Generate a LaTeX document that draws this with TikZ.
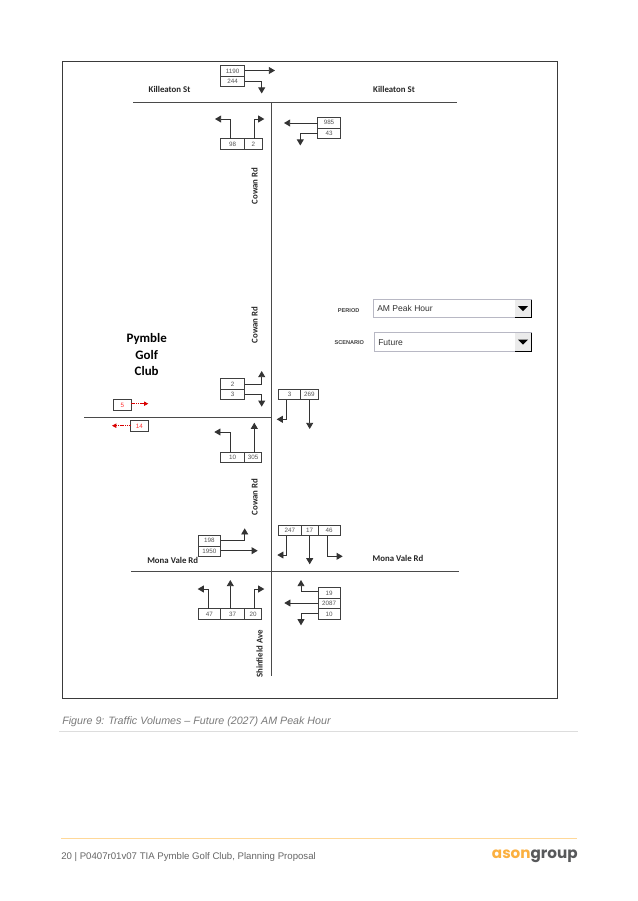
\documentclass[tikz,border=0pt]{standalone}
\usepackage{fontspec}
\setmainfont{Liberation Sans}
\newfontfamily\roadfont{Carlito}
\newfontfamily\logofont{Poppins}
\usetikzlibrary{arrows.meta,calc}
\definecolor{framec}{HTML}{3A3A3A}
\definecolor{roadc}{HTML}{4A4A4A}
\definecolor{cellc}{HTML}{404040}
\definecolor{numc}{HTML}{555555}
\definecolor{capc}{HTML}{7A7A7A}
\definecolor{rulec}{HTML}{DDDDDD}
\definecolor{footc}{HTML}{FFD898}
\definecolor{logoo}{HTML}{FBB040}
\definecolor{logog}{HTML}{58595B}
\definecolor{ddc}{HTML}{B8B8C4}
\tikzset{
  cellbox/.style={draw=cellc,line width=0.6pt,fill=white,inner sep=0pt,outer sep=0pt,text=numc,font=\fontsize{4.7}{5}\selectfont},
  flow/.style={draw=black!80,line width=0.65pt,-{Triangle[length=4.6pt,width=5.2pt]},rounded corners=0pt},
  redflow/.style={draw=red!85!black,line width=0.6pt,dash pattern=on 1.2pt off 0.5pt,-{Triangle[length=3.2pt,width=3.2pt]}},
  redbox/.style={cellbox,text=red!80},
  road/.style={draw=roadc,line width=0.7pt},
  roadname/.style={font=\roadfont\bfseries\fontsize{6.6}{7}\selectfont,text=black!85,inner sep=0pt},
  golf/.style={font=\roadfont\bfseries\fontsize{9.7}{11}\selectfont,text=black,inner sep=0pt},
  smalllabel/.style={font=\bfseries\fontsize{4.2}{5}\selectfont,text=black!75,inner sep=0pt},
  ddbox/.style={draw=ddc,line width=0.9pt,fill=white,inner sep=0pt,outer sep=0pt},
  ddtext/.style={font=\fontsize{6.4}{7}\selectfont,text=black!80,inner sep=0pt,anchor=west}
}
\newcommand{\cellat}[7][cellbox]{%
  \pgfmathsetmacro{\cw}{(#5-#3)*0.75}%
  \pgfmathsetmacro{\ch}{(#6-#4)*0.75}%
  \node[#1,minimum width=\cw pt,minimum height=\ch pt] (#2) at ({(#3+#5)/2},{(#4+#6)/2}) {#7};%
}
\begin{document}
\begin{tikzpicture}[x=0.75pt,y=-0.75pt]
\useasboundingbox (0,0) rectangle (637,901);
\fill[white] (0,0) rectangle (637,901);
\node[draw=framec,line width=0.6pt,inner sep=0pt,minimum width=371.25pt,minimum height=477.75pt] (frame) at (309.5,379.5) {};
% roads
\coordinate (kw) at (133,102.7); \coordinate (ke) at (457,102.7);
\coordinate (cn) at (271,102.7); \coordinate (cs) at (271,676);
\coordinate (gw) at (84.3,417.7); \coordinate (gj) at (271,417.7);
\coordinate (mw) at (131,571.7); \coordinate (me) at (459,571.7);
\draw[road] (kw) -- (ke);
\draw[road] (cn) -- (cs);
\draw[road] (gw) -- (gj);
\draw[road] (mw) -- (me);
% road names
\node[roadname] (k1) at (169.5,89.5) {Killeaton St};
\node[roadname] (k2) at (394,89.5) {Killeaton St};
\node[roadname,rotate=90] (c1) at (254.5,186) {Cowan Rd};
\node[roadname,rotate=90] (c2) at (254.5,325) {Cowan Rd};
\node[roadname,rotate=90] (c3) at (254.5,497) {Cowan Rd};
\node[roadname,rotate=90] (s1) at (259.5,654) {Shinfield Ave};
\node[roadname] (m1) at (172.7,560.7) {Mona Vale Rd};
\node[roadname] (m2) at (398,558.7) {Mona Vale Rd};
\node[golf] (g1) at (146.7,339) {Pymble};
\node[golf] (g2) at (146.7,355) {Golf};
\node[golf] (g3) at (146.7,370.7) {Club};
% Killeaton north-side
\cellat{a1}{220.7}{65.7}{244.7}{76.3}{1190}
\cellat{a2}{220.7}{76.3}{244.7}{86.7}{244}
\coordinate (ea1) at (275,70.5); \coordinate (ea2) at (261.7,93.5);
\draw[flow] (a1.east |- ea1) -- (ea1);
\draw[flow] (a2.east) ++(0,-0.5) -| (ea2);
% Cowan north approach
\cellat{b1}{220.7}{138.7}{244.7}{149.3}{98}
\cellat{b2}{244.7}{138.7}{262}{149.3}{2}
\coordinate (eb1) at (215,119); \coordinate (eb2) at (264.3,119);
\draw[flow] (b1.north -| 230,0) |- (eb1);
\draw[flow] (b2.north -| 254.3,0) |- (eb2);
% Killeaton east approach
\cellat{d1}{317.7}{117.3}{340.3}{128}{985}
\cellat{d2}{317.7}{128}{340.3}{138.3}{43}
\coordinate (ed1) at (284,123); \coordinate (ed2) at (300.3,145.5);
\draw[flow] (d1.west |- ed1) -- (ed1);
\draw[flow] (d2.west) -| (ed2);
% Golf club intersection
\cellat{f1}{220.7}{378.7}{244.7}{389.3}{2}
\cellat{f2}{220.7}{389.3}{244.7}{399.7}{3}
\coordinate (ef1) at (261.7,371); \coordinate (ef2) at (261.7,406.7);
\draw[flow] (f1.east) -| (ef1);
\draw[flow] (f2.east) -| (ef2);
\cellat{h1}{278.3}{389}{300.7}{399.7}{3}
\cellat{h2}{300.7}{389}{318}{399.7}{269}
\coordinate (eh1) at (276.7,419.3); \coordinate (eh2) at (309.7,429);
\draw[flow] (h1.south -| 286.7,0) |- (eh1);
\draw[flow] (h2.south -| eh2) -- (eh2);
\cellat{i1}{220.7}{452}{244.7}{462.3}{10}
\cellat{i2}{244.7}{452}{261.7}{462.3}{305}
\coordinate (ei1) at (214.3,432); \coordinate (ei2) at (254.3,422.7);
\draw[flow] (i1.north -| 230.3,0) |- (ei1);
\draw[flow] (i2.north -| ei2) -- (ei2);
% red site volumes
\cellat[redbox]{r1}{113.7}{399.7}{131}{410.3}{5}
\cellat[redbox]{r2}{130.7}{420.7}{148}{431}{14}
\coordinate (er1) at (148.3,403.7); \coordinate (er2) at (112,425.7);
\draw[redflow] (r1.east |- er1) -- (er1);
\draw[redflow] (r2.west |- er2) -- (er2);
% Period / scenario
\node[smalllabel] (pl) at (348.7,311) {PERIOD};
\node[smalllabel] (sl) at (349.3,342.3) {SCENARIO};
\node[ddbox,minimum width=118pt,minimum height=13.5pt] (dd1) at (452.4,308.3) {};
\node[ddbox,minimum width=117.5pt,minimum height=14.5pt] (dd2) at (452.7,342) {};
\node[ddtext] (t1) at (377,308.5) {AM Peak Hour};
\node[ddtext] (t2) at (378,342.5) {Future};
\fill[black!8] (515,300.3) rectangle (531,316.5);
\fill[black!8] (515,333.3) rectangle (531,351);
\draw[black,line width=0.7pt] (531,299.5) -- (531,317.3) -- (515,317.3);
\draw[black,line width=0.7pt] (531,332.5) -- (531,351.7) -- (515,351.7);
\fill[black] (518,306) -- (528,306) -- (523,311) -- cycle;
\fill[black] (518,339.5) -- (528,339.5) -- (523,344.5) -- cycle;
% Mona Vale north approach
\cellat{j1}{278.7}{525}{301}{535.7}{247}
\cellat{j2}{301}{525}{318}{535.7}{17}
\cellat{j3}{318}{525}{340.3}{535.7}{46}
\coordinate (ej1) at (277.3,555); \coordinate (ej2) at (309.7,564.3); \coordinate (ej3) at (342.7,556.3);
\draw[flow] (j1.south -| 286.7,0) |- (ej1);
\draw[flow] (j2.south -| ej2) -- (ej2);
\draw[flow] (j3.south -| 327.3,0) |- (ej3);
\cellat{l1}{198}{535.3}{220.7}{546}{198}
\cellat{l2}{198}{546}{220.7}{556.3}{1950}
\coordinate (el1) at (244.7,528.3); \coordinate (el2) at (257.7,550.7);
\draw[flow] (l1.east) -| (el1);
\draw[flow] (l2.east |- el2) -- (el2);
\cellat{n1}{198}{608.7}{220.7}{619.3}{47}
\cellat{n2}{220.7}{608.7}{244.7}{619.3}{37}
\cellat{n3}{244.7}{608.7}{261.7}{619.3}{20}
\coordinate (en1) at (197.7,589); \coordinate (en2) at (230.3,580); \coordinate (en3) at (264.3,589);
\draw[flow] (n1.north -| 208,0) |- (en1);
\draw[flow] (n2.north -| en2) -- (en2);
\draw[flow] (n3.north -| 254.3,0) |- (en3);
\cellat{o1}{318}{587.7}{340.3}{598}{19}
\cellat{o2}{318}{598}{340.3}{608.7}{2087}
\cellat{o3}{318}{608.7}{340.3}{619.3}{10}
\coordinate (eo1) at (301,580); \coordinate (eo2) at (284.3,603); \coordinate (eo3) at (301,625.3);
\draw[flow] (o1.west |- 0,591.7) -| (eo1);
\draw[flow] (o2.west |- eo2) -- (eo2);
\draw[flow] (o3.west |- 0,613.3) -| (eo3);
% caption and footer
\node[anchor=west,inner sep=0pt,text=capc,font=\itshape\fontsize{8.02}{9}\selectfont] (cap) at (62,721.5) {Figure 9: Traffic Volumes – Future (2027) AM Peak Hour};
\coordinate (c1w) at (59,731.5); \coordinate (c1e) at (578,731.5);
\draw[rulec,line width=0.75pt] (c1w) -- (c1e);
\coordinate (c2w) at (61,838.5); \coordinate (c2e) at (577,838.5);
\draw[footc,line width=0.75pt] (c2w) -- (c2e);
\node[anchor=west,inner sep=0pt,text=black!60,font=\fontsize{7.22}{9}\selectfont] (foot) at (61,857) {20 | P0407r01v07 TIA Pymble Golf Club, Planning Proposal};
\node[anchor=east,inner sep=0pt,font=\logofont\bfseries\fontsize{11.4}{14}\selectfont] (logo) at (578,856.5) {\textcolor{logoo}{ason}\textcolor{logog}{group}};
\end{tikzpicture}
\end{document}
